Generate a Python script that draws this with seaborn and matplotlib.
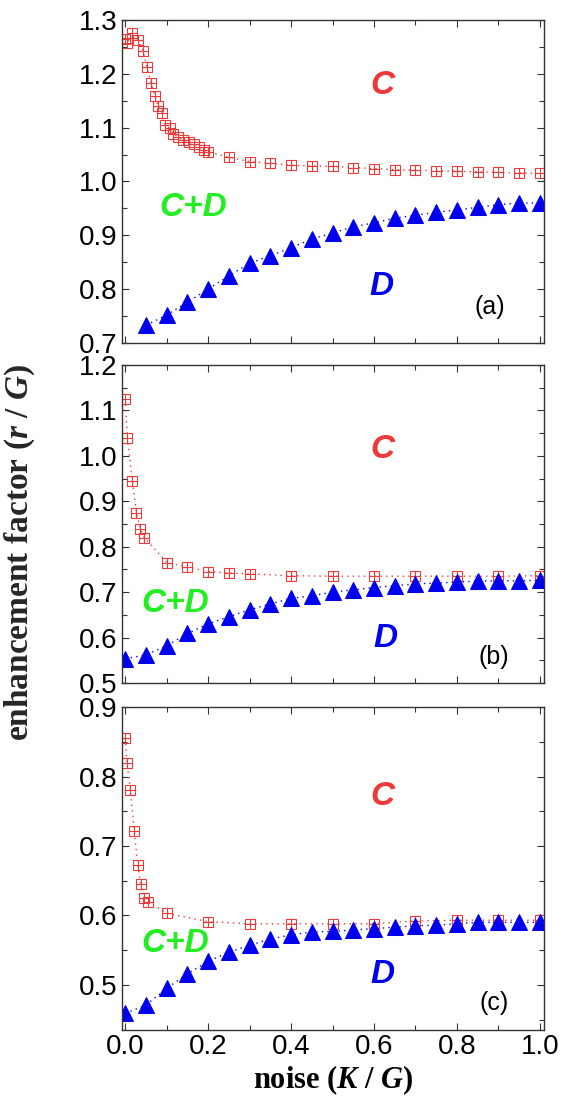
import matplotlib
matplotlib.use('Agg')
import matplotlib.pyplot as plt
import seaborn as sns
from matplotlib.ticker import MultipleLocator, FormatStrFormatter

# données
# (a)
xa_c = [0, 0.005, 0.016, 0.03, 0.043, 0.052, 0.062, 0.072, 0.079, 0.088, 0.096, 0.107,
        0.115, 0.126, 0.139, 0.153, 0.165, 0.177, 0.189, 0.2,
        0.25, 0.3, 0.35, 0.4, 0.45, 0.5, 0.55, 0.6, 0.65, 0.7, 0.75, 0.8, 0.85, 0.9, 0.95, 1.0]
ya_c = [1.265, 1.258, 1.275, 1.263, 1.243, 1.213, 1.183, 1.159, 1.140, 1.127, 1.105, 1.099,
        1.089, 1.083, 1.077, 1.074, 1.070, 1.065, 1.058, 1.055,
        1.045, 1.037, 1.034, 1.030, 1.029, 1.028, 1.026, 1.024, 1.022, 1.021, 1.020, 1.019,
        1.018, 1.017, 1.016, 1.015]
xa_d = [0.05, 0.1, 0.15, 0.2, 0.25, 0.3, 0.35, 0.4, 0.45, 0.5, 0.55, 0.6, 0.65, 0.7,
        0.75, 0.8, 0.85, 0.9, 0.95, 1.0]
ya_d = [0.733, 0.752, 0.776, 0.800, 0.825, 0.848, 0.862, 0.877, 0.893, 0.904, 0.916, 0.923,
        0.932, 0.937, 0.943, 0.947, 0.952, 0.957, 0.960, 0.960]

# (b)
xb_c = [0, 0.005, 0.017, 0.027, 0.036, 0.046, 0.1, 0.15, 0.2, 0.25, 0.3, 0.4, 0.5, 0.6,
        0.7, 0.8, 0.9, 1.0]
yb_c = [1.125, 1.040, 0.945, 0.875, 0.840, 0.820, 0.765, 0.755, 0.745, 0.742, 0.740,
        0.736, 0.735, 0.735, 0.735, 0.735, 0.735, 0.736]
xb_d = [0, 0.05, 0.1, 0.15, 0.2, 0.25, 0.3, 0.35, 0.4, 0.45, 0.5, 0.55, 0.6, 0.65, 0.7,
        0.75, 0.8, 0.85, 0.9, 0.95, 1.0]
yb_d = [0.553, 0.562, 0.582, 0.609, 0.630, 0.646, 0.661, 0.674, 0.686, 0.692, 0.700,
        0.705, 0.710, 0.714, 0.718, 0.720, 0.722, 0.724, 0.725, 0.725, 0.726]

# (c)
xc_c = [0, 0.004, 0.012, 0.022, 0.03, 0.037, 0.045, 0.055, 0.1, 0.2, 0.3, 0.4, 0.5, 0.6,
        0.7, 0.8, 0.9, 1.0]
yc_c = [0.855, 0.820, 0.781, 0.721, 0.672, 0.645, 0.625, 0.620, 0.603, 0.591, 0.588,
        0.588, 0.588, 0.588, 0.592, 0.593, 0.593, 0.593]
xc_d = [0, 0.05, 0.1, 0.15, 0.2, 0.25, 0.3, 0.35, 0.4, 0.45, 0.5, 0.55, 0.6, 0.65, 0.7,
        0.75, 0.8, 0.85, 0.9, 0.95, 1.0]
yc_d = [0.459, 0.471, 0.495, 0.516, 0.534, 0.547, 0.557, 0.566, 0.572, 0.576, 0.577,
        0.579, 0.581, 0.583, 0.585, 0.586, 0.588, 0.590, 0.590, 0.590, 0.590]

panels = ['(a)', '(b)', '(c)']
ylims = [(0.7, 1.3), (0.5, 1.2), (0.435, 0.9)]
text_pos = [
    {'C': (0.62, 1.178), 'C+D': (0.165, 0.952), 'D': (0.617, 0.805), 'lab': (0.88, 0.767)},
    {'C': (0.62, 1.015), 'C+D': (0.12, 0.676), 'D': (0.628, 0.597), 'lab': (0.89, 0.557)},
    {'C': (0.62, 0.771), 'C+D': (0.12, 0.56), 'D': (0.62, 0.515), 'lab': (0.89, 0.474)},
]

sns.set_style('ticks')
plt.rcParams['font.family'] = ['Liberation Sans', 'DejaVu Sans']
plt.rcParams['mathtext.fontset'] = 'custom'
plt.rcParams['mathtext.it'] = 'Liberation Serif:italic:bold'
plt.rcParams['mathtext.rm'] = 'Liberation Serif:bold'

red = '#ec3a3a'
blue = '#0000ee'
green = '#22ee22'

fig = plt.figure(figsize=(5.66, 11.06), dpi=100)
rects = [
    [0.2155, 0.6899, 0.7456, 0.292],
    [0.2155, 0.3825, 0.7456, 0.2875],
    [0.2155, 0.0687, 0.7456, 0.292],
]
data = [(xa_c, ya_c, xa_d, ya_d), (xb_c, yb_c, xb_d, yb_d), (xc_c, yc_c, xc_d, yc_d)]

for i, (ax_rect, (xc, yc, xd, yd)) in enumerate(zip(rects, data)):
    ax = fig.add_axes(ax_rect)
    sns.lineplot(x=xc, y=yc, ax=ax, color=red, linestyle=(0, (1, 3)), linewidth=1,
                 marker='s', markersize=7, markerfacecolor='none',
                 markeredgecolor=red, markeredgewidth=0.8)
    sns.scatterplot(x=xc, y=yc, ax=ax, marker='+', s=45, color=red, linewidth=0.8)
    sns.lineplot(x=xd, y=yd, ax=ax, color=blue, linestyle=(0, (1, 3)), linewidth=1,
                 marker='^', markersize=11, markerfacecolor=blue,
                 markeredgecolor=blue)

    ax.set_xlim(-0.008, 1.01)
    ax.set_ylim(*ylims[i])
    ax.xaxis.set_major_locator(MultipleLocator(0.2))
    ax.xaxis.set_minor_locator(MultipleLocator(0.1))
    ax.yaxis.set_major_locator(MultipleLocator(0.1))
    ax.yaxis.set_minor_locator(MultipleLocator(0.05))
    ax.tick_params(which='both', direction='in', top=True, right=True,
                   labelsize=20, width=0.8, color='#333333', labelcolor='black')
    ax.tick_params(which='major', length=5, pad=3)
    ax.tick_params(which='minor', length=3.5)
    ax.yaxis.set_major_formatter(FormatStrFormatter('%.1f'))
    ax.xaxis.set_major_formatter(FormatStrFormatter('%.1f'))
    if i < 2:
        ax.tick_params(labelbottom=False)
    for sp in ax.spines.values():
        sp.set_linewidth(1)
        sp.set_color('#333333')

    tp = text_pos[i]
    ax.text(*tp['C'], 'C', color=red, fontsize=24, fontweight='bold', fontstyle='italic',
            ha='center', va='center')
    ax.text(*tp['C+D'], 'C+D', color=green, fontsize=24, fontweight='bold',
            fontstyle='italic', ha='center', va='center')
    ax.text(*tp['D'], 'D', color=blue, fontsize=24, fontweight='bold', fontstyle='italic',
            ha='center', va='center')
    ax.text(*tp['lab'], panels[i], color='black', fontsize=18, ha='center', va='center')

    if i == 2:
        ax.set_xlabel('noise ($K$ / $G$)', fontsize=22, fontweight='bold',
                      family='Liberation Serif', labelpad=2, color='black')

fig.text(0.035, 0.5, 'enhancement factor ($r$ / $G$)', rotation=90, fontsize=24,
         fontweight='bold', family='Liberation Serif', ha='center', va='center')

fig.savefig('out.png', dpi=100)
plt.close(fig)
